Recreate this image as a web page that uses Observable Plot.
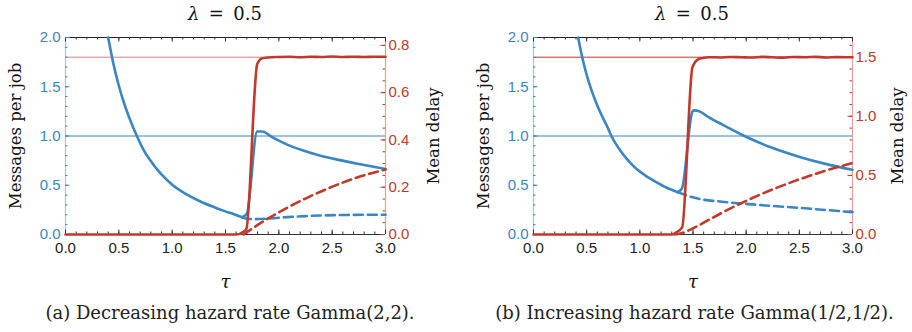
<!DOCTYPE html>
<html>
<head>
<meta charset="utf-8">
<script src="https://cdn.jsdelivr.net/npm/d3@7"></script>
<script src="https://cdn.jsdelivr.net/npm/@observablehq/plot@0.6"></script>
<style>
  html, body { margin: 0; padding: 0; background: #fff; }
  #root { position: relative; width: 912px; height: 332px; overflow: hidden; background: #fff; }
  .title { position: absolute; top: 0; height: 28px; line-height: 28px; text-align: center;
           font-family: "DejaVu Serif"; font-size: 18px; color: #111; white-space: nowrap; }
  .cap { position: absolute; top: 300px; height: 26px; line-height: 26px; text-align: center;
         font-family: "DejaVu Serif"; font-size: 18px; color: #222; white-space: nowrap; }
  .panel { position: absolute; top: 28px; width: 456px; height: 270px; }
  .panel svg { overflow: visible; }
</style>
</head>
<body>
<div id="root"></div>
<script>
// ---------------- data ----------------
const titleText = "0.5";
const captions = ["(a) Decreasing hazard rate Gamma(2,2).", "(b) Increasing hazard rate Gamma(1/2,1/2)."];
const xLabel = "τ";
const leftLabel = "Messages per job";
const rightLabel = "Mean delay";

const xTicks = [0, 0.5, 1.0, 1.5, 2.0, 2.5, 3.0];
const yTicks = [0, 0.5, 1.0, 1.5, 2.0];
const delayTicksA = [0, 0.2, 0.4, 0.6, 0.8];
const delayTicksB = [0, 0.5, 1.0, 1.5];
const refMessages = 1.0;
const refDelayA = 0.75;
const refDelayB = 1.5;

// (a) Gamma(2,2): messages per job
const blueSolidA1 = [[0.40,2.0],[0.45,1.73],[0.50,1.51],[0.55,1.33],[0.60,1.18],[0.669,1.0],[0.734,0.855],[0.80,0.745],[0.837,0.69],[0.90,0.61],[1.006,0.50],[1.14,0.405],[1.275,0.33],[1.40,0.275],[1.50,0.235],[1.58,0.205],[1.656,0.175]];
const blueSolidA2 = [[1.656,0.175],[1.70,0.21],[1.797,1.045],[1.84,1.045],[1.95,0.98],[2.078,0.912],[2.2,0.862],[2.39,0.80],[2.55,0.76],[2.70,0.727],[2.85,0.695],[3.0,0.665]];
const blueDashA = [[1.656,0.175],[1.70,0.16],[1.766,0.156],[1.9,0.162],[2.078,0.176],[2.25,0.187],[2.39,0.193],[2.6,0.198],[2.8,0.2],[3.0,0.2]];
// (a) mean delay
const redSolidA = [[0,0],[1.60,0],[1.672,0.013],[1.696,0.024],[1.797,0.72],[1.84,0.745],[1.9,0.749],[2.0,0.751],[2.1,0.752],[2.2,0.750],[2.3,0.752],[2.4,0.751],[2.5,0.753],[2.6,0.751],[2.7,0.752],[2.8,0.751],[2.9,0.752],[3.0,0.752]];
const redDashA = [[1.67,0],[1.766,0.030],[1.9,0.068],[2.078,0.113],[2.25,0.152],[2.39,0.181],[2.55,0.211],[2.70,0.236],[2.85,0.257],[3.0,0.275]];

// (b) Gamma(1/2,1/2): messages per job
const blueSolidB1 = [[0.42,2.0],[0.454,1.82],[0.50,1.62],[0.55,1.45],[0.60,1.31],[0.65,1.19],[0.70,1.08],[0.733,1.0],[0.821,0.845],[0.90,0.74],[0.962,0.672],[1.05,0.60],[1.15,0.535],[1.25,0.477],[1.354,0.43]];
const blueSolidB2 = [[1.354,0.43],[1.395,0.464],[1.495,1.249],[1.51,1.26],[1.56,1.25],[1.65,1.19],[1.774,1.117],[1.994,0.995],[2.244,0.88],[2.495,0.79],[2.746,0.717],[3.0,0.657]];
const blueDashB = [[1.354,0.43],[1.46,0.389],[1.555,0.362],[1.774,0.333],[1.994,0.311],[2.244,0.29],[2.495,0.271],[2.746,0.249],[3.0,0.227]];
// (b) mean delay
const redSolidB = [[0,0],[1.30,0],[1.335,0.014],[1.398,0.06],[1.495,1.415],[1.558,1.486],[1.65,1.50],[1.75,1.498],[1.85,1.502],[1.95,1.50],[2.05,1.497],[2.15,1.503],[2.25,1.499],[2.35,1.496],[2.45,1.502],[2.55,1.50],[2.65,1.503],[2.75,1.498],[2.85,1.501],[2.95,1.50],[3.0,1.499]];
const redDashB = [[1.33,0],[1.40,0.012],[1.46,0.035],[1.555,0.078],[1.774,0.185],[1.994,0.282],[2.244,0.38],[2.495,0.465],[2.746,0.54],[3.0,0.605]];

// ---------------- drawing ----------------
const blue = "#3a86c5";
const red = "#c0392b";
const xDomain = [0, 3];
const yDomain = [0, 2];
const serif = "DejaVu Serif";
const sans = "'Liberation Sans', Arial, Helvetica, 'DejaVu Sans'";

function panel(cfg) {
  const W = 456, H = 270, mt = 9, mb = 64;
  const fw = W - cfg.mL - cfg.mR, fh = H - mt - mb;
  const k = cfg.k;
  const xMinor = d3.range(0, 3.0001, 0.1);
  const yMinor = d3.range(0, 2.0001, 0.1);
  const dMinor = d3.range(0, cfg.dMax + 1e-6, cfg.dStep).map(d => d * k);
  const dMajor = cfg.dTicks.map(d => d * k);
  const maj = 4.5, mnr = 2.5;
  const msg = (arr, opts) => Plot.line(arr, {x: d => d[0], y: d => d[1], curve: "monotone-x", strokeWidth: 2.6, strokeLinejoin: "round", ...opts});
  const del = (arr, opts) => Plot.line(arr, {x: d => d[0], y: d => d[1] * k, curve: "monotone-x", strokeWidth: 2.6, strokeLinejoin: "round", ...opts});
  return Plot.plot({
    width: W, height: H, marginTop: mt, marginBottom: mb, marginLeft: cfg.mL, marginRight: cfg.mR,
    x: {domain: xDomain},
    y: {domain: yDomain},
    style: {fontFamily: sans, fontSize: "15px", background: "transparent", overflow: "visible"},
    marks: [
      // reference lines
      Plot.ruleY([refMessages], {y: d => d, stroke: blue, strokeWidth: 1}),
      Plot.ruleY([cfg.refDelay], {y: d => d * k, stroke: red, strokeWidth: 1, strokeOpacity: cfg.refOpacity}),
      // frame
      Plot.ruleY([yDomain[1]], {y: d => d, stroke: "#222", strokeWidth: 1}),
      Plot.ruleY([yDomain[0]], {y: d => d, stroke: "#333", strokeWidth: 1}),
      Plot.ruleX([xDomain[0]], {x: d => d, stroke: "#9fc6e6", strokeWidth: 1.2}),
      Plot.ruleX([xDomain[1]], {x: d => d, stroke: "#e2a29b", strokeWidth: 1.2}),
      // inward ticks: bottom & top
      Plot.ruleX(xMinor, {x: d => d, insetTop: fh - mnr, stroke: "#333"}),
      Plot.ruleX(xTicks, {x: d => d, insetTop: fh - maj, stroke: "#333"}),
      Plot.ruleX(xMinor, {x: d => d, insetBottom: fh - mnr, stroke: "#333"}),
      Plot.ruleX(xTicks, {x: d => d, insetBottom: fh - maj, stroke: "#333"}),
      // left ticks (messages)
      Plot.ruleY(yMinor, {y: d => d, insetRight: fw - mnr, stroke: blue}),
      Plot.ruleY(yTicks, {y: d => d, insetRight: fw - maj, stroke: blue}),
      // right ticks (delay)
      Plot.ruleY(dMinor, {y: d => d, insetLeft: fw - mnr, stroke: red}),
      Plot.ruleY(dMajor, {y: d => d, insetLeft: fw - maj, stroke: red}),
      // tick labels
      Plot.axisX({ticks: xTicks, tickSize: 0, tickPadding: 8, tickFormat: d3.format(".1f"), label: null, color: "#222", fontSize: 15}),
      Plot.axisY({anchor: "left", ticks: yTicks, tickSize: 0, tickPadding: 5, tickFormat: d3.format(".1f"), label: null, color: blue, fontSize: 15}),
      Plot.axisY({anchor: "right", ticks: dMajor, tickSize: 0, tickPadding: 3, tickFormat: d => (d / k).toFixed(1), label: null, color: red, fontSize: 15}),
      // axis titles
      Plot.text([leftLabel], {text: d => d, frameAnchor: "left", textAnchor: "middle", lineAnchor: "middle", dx: cfg.msgDx, rotate: -90, fontFamily: serif, fontSize: 16.5, fill: "#111"}),
      Plot.text([rightLabel], {text: d => d, frameAnchor: "right", textAnchor: "middle", lineAnchor: "middle", dx: cfg.delDx, rotate: -90, fontFamily: serif, fontSize: 16.5, fill: "#111"}),
      Plot.text([xLabel], {text: d => d, frameAnchor: "bottom", lineAnchor: "middle", dy: 48, fontFamily: serif, fontStyle: "italic", fontSize: 18, fill: "#111"}),
      // curves
      msg(cfg.b1, {stroke: blue}),
      msg(cfg.b2, {stroke: blue}),
      msg(cfg.bd, {stroke: blue, strokeDasharray: "9,5"}),
      del(cfg.rd, {stroke: red, strokeDasharray: "9,5"}),
      del(cfg.rs, {stroke: red})
    ]
  });
}

const root = document.getElementById("root");
const panels = [
  {left: 0, mL: 65, mR: 71, k: 2.4, dTicks: delayTicksA, dMax: 0.8, dStep: 0.05, refDelay: refDelayA, refOpacity: 0.65,
   msgDx: -50, delDx: 48.5, b1: blueSolidA1, b2: blueSolidA2, bd: blueDashA, rs: redSolidA, rd: redDashA,
   titleCx: 225, capCx: 230},
  {left: 456, mL: 77, mR: 60, k: 1.2, dTicks: delayTicksB, dMax: 1.6, dStep: 0.1, refDelay: refDelayB, refOpacity: 1,
   msgDx: -50, delDx: 45.5, b1: blueSolidB1, b2: blueSolidB2, bd: blueDashB, rs: redSolidB, rd: redDashB,
   titleCx: 692, capCx: 694.5}
];
panels.forEach((cfg, i) => {
  const t = document.createElement("div");
  t.className = "title";
  t.style.left = (cfg.titleCx - 100) + "px";
  t.style.width = "200px";
  t.innerHTML = "<i>λ</i>&thinsp; = &thinsp;" + titleText;
  root.appendChild(t);

  const p = document.createElement("div");
  p.className = "panel";
  p.style.left = cfg.left + "px";
  p.appendChild(panel(cfg));
  root.appendChild(p);

  const c = document.createElement("div");
  c.className = "cap";
  c.style.left = (cfg.capCx - 228) + "px";
  c.style.width = "456px";
  c.textContent = captions[i];
  root.appendChild(c);
});
</script>
</body>
</html>
